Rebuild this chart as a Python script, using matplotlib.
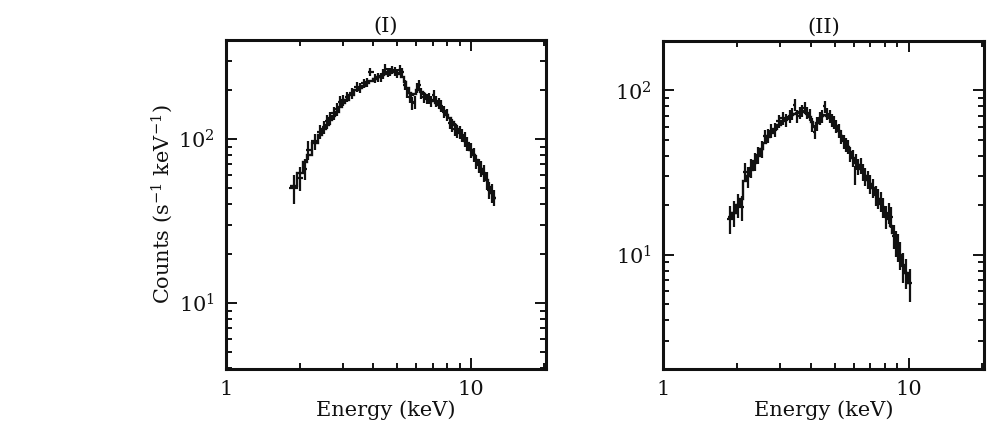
import numpy as np
import matplotlib
matplotlib.use("Agg")
import matplotlib.pyplot as plt
from matplotlib.ticker import LogLocator, NullFormatter, FixedLocator, FixedFormatter

plt.rcParams['font.family'] = ['DejaVu Serif']
plt.rcParams['mathtext.fontset'] = 'dejavuserif'

# ---------------- Panel (I) ----------------
energy_I = [1.89, 2.01, 2.10, 2.17, 2.32, 2.43, 2.52, 2.59, 2.67, 2.75, 2.84, 2.93,
            3.02, 3.12, 3.27, 3.43, 3.54, 3.65, 3.77, 3.89, 4.07, 4.18, 4.28, 4.38,
            4.48, 4.60, 4.70, 4.78, 4.90, 5.01, 5.13, 5.25, 5.38, 5.50, 5.65, 5.77,
            5.90, 6.04, 6.14, 6.29, 6.44, 6.60, 6.75, 6.90, 7.07, 7.23, 7.40, 7.58,
            7.78, 8.00, 8.20, 8.42, 8.62, 8.82, 9.03, 9.25, 9.47, 9.69, 10.0, 10.3,
            10.55, 10.8, 11.05, 11.3, 11.6, 11.9, 12.2, 12.5]
counts_I = [50, 58, 66, 86, 97, 111, 118, 128, 134, 144, 152, 169,
            172, 181, 190, 208, 205, 219, 222, 257, 234, 238, 239, 250,
            269, 255, 257, 264, 258, 252, 265, 257, 215, 192, 180, 165,
            168, 205, 214, 190, 181, 176, 177, 170, 185, 170, 165, 160,
            147, 140, 126, 122, 115, 111, 110, 106, 100, 94, 86, 80,
            73, 69, 66, 62, 56, 49, 47, 44]
error_I = [10, 10, 10, 11, 11, 11, 11, 12, 12, 13, 13, 13,
           13, 13, 14, 15, 15, 15, 15, 16, 15, 15, 15, 16,
           16, 16, 16, 16, 16, 16, 16, 16, 15, 15, 15, 15,
           15, 15, 15, 15, 14, 13, 13, 13, 13, 13, 13, 13,
           12, 12, 11, 11, 10, 10, 10, 10, 10, 9, 9, 8,
           7, 7, 7, 7, 7, 6, 6, 5]
model_I = [52, 62, 72, 80, 95, 106, 115, 122, 130, 138, 147, 156,
           165, 173, 186, 198, 205, 212, 219, 225, 233, 238, 242, 246,
           249, 252, 254, 255, 255, 254, 250, 240, 222, 205, 190, 185,
           188, 198, 200, 195, 188, 182, 178, 174, 170, 166, 161, 155,
           148, 141, 134, 127, 121, 115, 109, 104, 98, 93, 86, 80,
           75, 70, 66, 61, 56, 51, 47, 44]

# ---------------- Panel (II) ----------------
energy_II = [1.87, 1.95, 2.02, 2.09, 2.15, 2.22, 2.29, 2.36, 2.44, 2.52, 2.60, 2.68,
             2.76, 2.85, 2.96, 3.08, 3.18, 3.28, 3.36, 3.44, 3.52, 3.60, 3.69, 3.78,
             3.87, 3.96, 4.05, 4.15, 4.25, 4.35, 4.45, 4.56, 4.66, 4.77, 4.87, 4.98,
             5.08, 5.20, 5.32, 5.44, 5.57, 5.67, 5.80, 5.94, 6.03, 6.13, 6.23, 6.38,
             6.52, 6.68, 6.84, 7.00, 7.16, 7.35, 7.52, 7.73, 7.90, 8.10, 8.30, 8.50,
             8.70, 8.90, 9.05, 9.25, 9.48, 9.75, 10.1]
counts_II = [16.5, 18, 20.1, 19.5, 32, 30, 33.7, 37, 40.6, 44, 52.5, 53,
             57, 57.7, 65, 68, 66, 69.5, 72, 81.8, 70, 72.8, 75, 78,
             73, 71, 62, 56, 63, 68, 70, 80, 72, 69.5, 66, 64,
             60.4, 57, 52.5, 49, 46.8, 45.6, 41, 38.8, 30.7, 37, 34.5, 35,
             32, 30, 28.6, 27, 25.5, 23, 22, 21.2, 19.5, 17.1, 18, 17.1,
             13, 11.8, 11.2, 10, 8.5, 7.8, 6.7]
error_II = [3.2, 3.2, 3.4, 3.4, 4.4, 4.4, 4.5, 4.6, 4.8, 5, 5.3, 5.3,
            5.6, 5.6, 6, 6, 6, 6.2, 6.2, 6.6, 6.2, 6.2, 6.4, 6.5,
            6.2, 6.2, 6, 5.6, 6, 6.2, 6.2, 6.6, 6.2, 6.2, 6, 6,
            5.6, 5.3, 5, 4.9, 4.8, 4.7, 4.5, 4.4, 4.2, 4.2, 4, 4,
            3.9, 3.7, 3.6, 3.4, 3.3, 3.1, 3, 3, 2.8, 2.7, 2.7, 2.5,
            2.2, 2.1, 2.1, 1.9, 1.8, 1.6, 1.5]
model_II = [17, 18, 20, 22, 28, 30, 33, 36, 40, 44, 48, 52,
            55, 58, 62, 65, 67, 69, 71, 72, 73, 74, 74, 74,
            72, 69, 64, 60, 63, 67, 70, 71, 70, 68, 66, 63,
            61, 57, 53, 50, 47, 45, 42, 39, 37.5, 36, 35, 33.5,
            32, 30, 28.5, 27, 25.5, 23.5, 22, 20.5, 19, 17.5, 16.5, 15,
            13.5, 12.2, 11.3, 10, 8.7, 7.7, 6.7]

titles = ["(I)", "(II)"]
x_ticks = [1, 10]
x_ticklabels = ["1", "10"]
ylims = [(3.96, 402), (2.02, 200)]
xlim = (1, 20.3)

fig = plt.figure(figsize=(10.06, 4.33), dpi=100)
ax1 = fig.add_axes([226/1006, 1-369/433, 320/1006, 329/433])
ax2 = fig.add_axes([663/1006, 1-369/433, 321/1006, 328/433])

INK = '#111111'


def edges_from_centers(c):
    c = np.asarray(c, float)
    mids = np.sqrt(c[:-1] * c[1:])
    first = c[0] ** 2 / mids[0]
    last = c[-1] ** 2 / mids[-1]
    return np.concatenate([[first], mids, [last]])


def draw(ax, e, cts, err, model, title, ylim):
    e = np.asarray(e, float)
    edges = edges_from_centers(e)
    xlo = e - edges[:-1]
    xhi = edges[1:] - e
    ax.errorbar(e, cts, xerr=[xlo * 1.3, xhi * 1.3], yerr=err, fmt='none',
                ecolor=INK, elinewidth=1.6, capsize=0)
    ax.stairs(model, edges, color=INK, linewidth=1.7, baseline=None)
    ax.set_xscale('log')
    ax.set_yscale('log')
    ax.set_xlim(*xlim)
    ax.set_ylim(*ylim)
    ax.xaxis.set_major_locator(FixedLocator(x_ticks))
    ax.xaxis.set_major_formatter(FixedFormatter(x_ticklabels))
    ax.xaxis.set_minor_locator(LogLocator(base=10, subs=np.arange(2, 10)))
    ax.xaxis.set_minor_formatter(NullFormatter())
    ax.yaxis.set_minor_locator(LogLocator(base=10, subs=np.arange(2, 10)))
    ax.yaxis.set_minor_formatter(NullFormatter())
    ax.tick_params(which='both', direction='in', top=True, right=True,
                   labelsize=15, width=1.4, colors=INK, pad=8)
    ax.tick_params(which='major', length=8)
    ax.tick_params(which='minor', length=4)
    for s in ax.spines.values():
        s.set_linewidth(2.2)
        s.set_color(INK)
    ax.set_title(title, fontsize=15, pad=6, color=INK)
    ax.set_xlabel('Energy (keV)', fontsize=15, labelpad=1, color=INK)


draw(ax1, energy_I, counts_I, error_I, model_I, titles[0], ylims[0])
draw(ax2, energy_II, counts_II, error_II, model_II, titles[1], ylims[1])
ax1.set_ylabel('Counts (s$^{-1}$ keV$^{-1}$)', fontsize=15, labelpad=2, color=INK)

fig.savefig('out.png', dpi=100, facecolor='white')
